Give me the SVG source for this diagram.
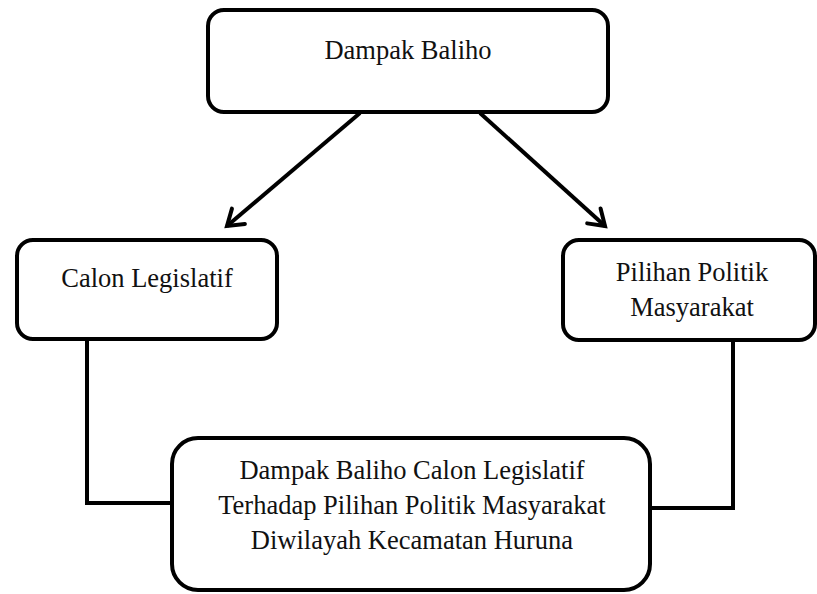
<svg xmlns="http://www.w3.org/2000/svg" width="817" height="594" viewBox="0 0 817 594">
<defs>
<style>
.box{fill:#fff;stroke:#000;stroke-width:4}
.lbl{font-family:"Liberation Serif","Times New Roman",serif;font-size:26.5px;fill:#111;text-anchor:middle}
.con{fill:none;stroke:#000;stroke-width:4}
</style>
<marker id="arr" markerUnits="userSpaceOnUse" markerWidth="30" markerHeight="30" viewBox="-20 -15 30 30" refX="0" refY="0" orient="auto">
<path d="M-15 -10 L0 0 L-15 10" fill="none" stroke="#000" stroke-width="4" stroke-linecap="round"/>
</marker>
</defs>
<rect width="817" height="594" fill="#fff"/>
<g id="connectors">
<path class="con" d="M360 113 L227 226" marker-end="url(#arr)"/>
<path class="con" d="M480 113 L605 226" marker-end="url(#arr)"/>
<path class="con" d="M87 339 V503 H174"/>
<path class="con" d="M733 340 V508 H648"/>
</g>
<g id="dampak-baliho">
<rect class="box" x="208" y="10" width="400" height="102" rx="16"/>
<text class="lbl" x="408" y="59">Dampak Baliho</text>
</g>
<g id="calon-legislatif">
<rect class="box" x="17" y="240" width="260" height="99" rx="16"/>
<text class="lbl" x="147" y="287">Calon Legislatif</text>
</g>
<g id="pilihan-politik">
<rect class="box" x="563" y="240" width="252" height="100" rx="16"/>
<text class="lbl" x="692" y="281">Pilihan Politik</text>
<text class="lbl" x="692" y="316">Masyarakat</text>
</g>
<g id="dampak-terhadap">
<rect class="box" x="172" y="438" width="478" height="152" rx="26"/>
<text class="lbl" x="412" y="479">Dampak Baliho Calon Legislatif</text>
<text class="lbl" x="412" y="514">Terhadap Pilihan Politik Masyarakat</text>
<text class="lbl" x="412" y="549">Diwilayah Kecamatan Huruna</text>
</g>
</svg>
